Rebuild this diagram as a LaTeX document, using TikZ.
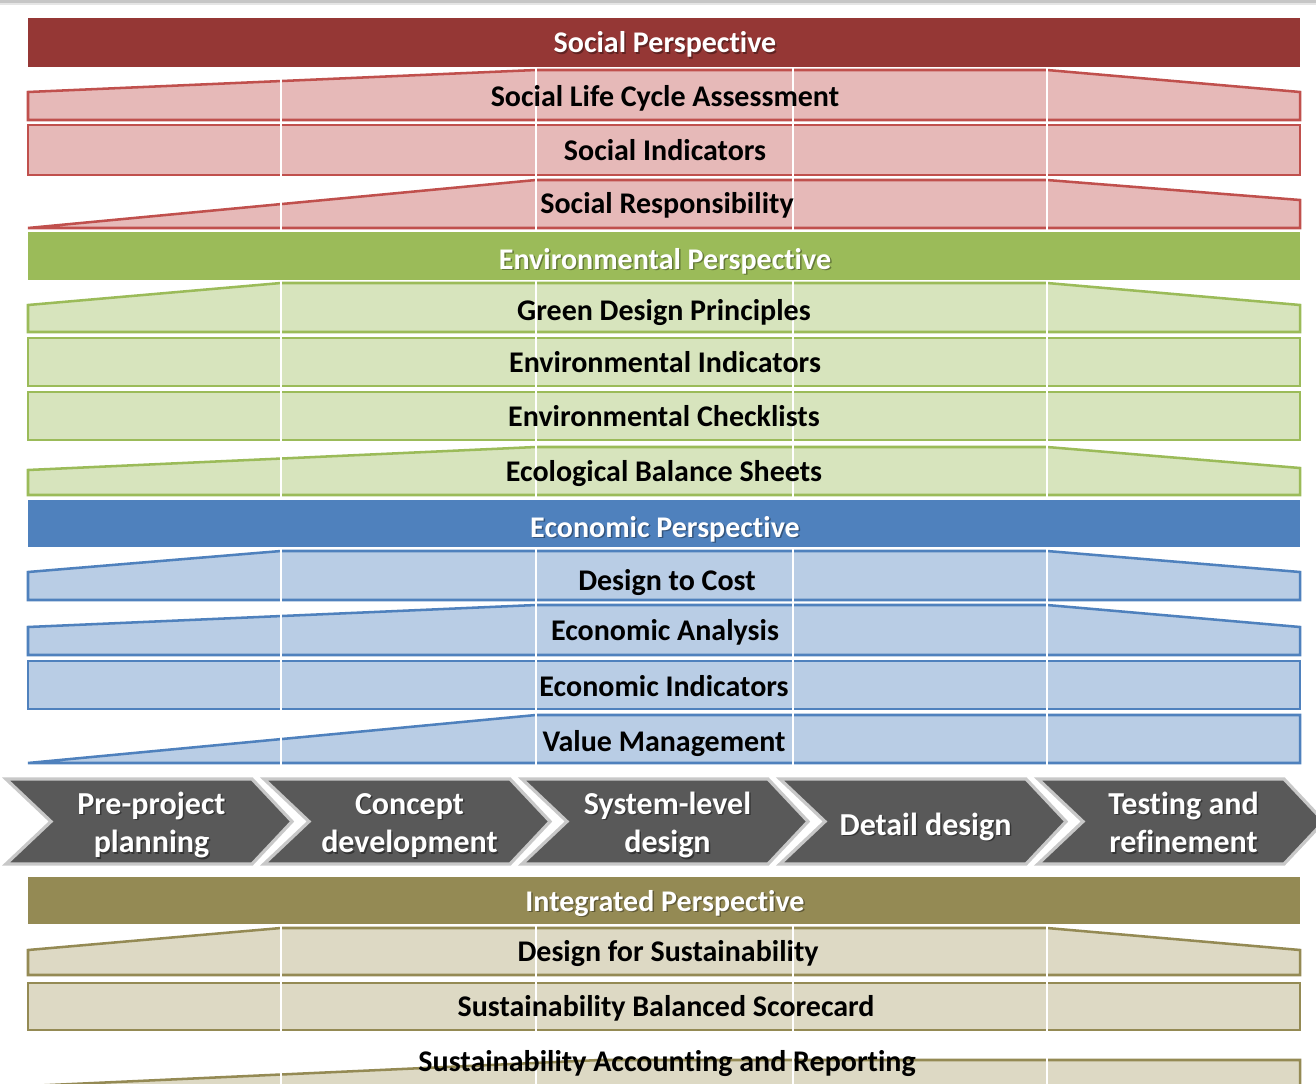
\documentclass[tikz,border=0pt]{standalone}
\usepackage{fontspec}
\setmainfont{Carlito}[RawFeature={-liga;-clig;-calt}]
\definecolor{sochead}{HTML}{953735}
\definecolor{socfill}{HTML}{E6B9B8}
\definecolor{socline}{HTML}{C0504D}
\definecolor{envhead}{HTML}{9BBB59}
\definecolor{envfill}{HTML}{D7E4BD}
\definecolor{envline}{HTML}{9BBB59}
\definecolor{ecohead}{HTML}{4F81BD}
\definecolor{ecofill}{HTML}{B9CDE5}
\definecolor{ecoline}{HTML}{4F81BD}
\definecolor{inthead}{HTML}{948A54}
\definecolor{intfill}{HTML}{DDD9C4}
\definecolor{intline}{HTML}{948A54}
\definecolor{chevfill}{HTML}{595959}
\definecolor{chevedge}{HTML}{C8C8C8}
\begin{document}
\begin{tikzpicture}[x=0.75pt,y=-0.75pt,
  band/.style={line width=1.9pt, line join=miter},
  socrow/.style={band, fill=socfill, draw=socline},
  envrow/.style={band, fill=envfill, draw=envline},
  ecorow/.style={band, fill=ecofill, draw=ecoline},
  introw/.style={band, fill=intfill, draw=intline},
  gridline/.style={white, line width=1.5pt},
  chevron/.style={fill=chevfill, draw=chevedge, line width=2.4pt, line join=miter},
  rowtxt/.style={font=\bfseries\fontsize{22.5}{27}\selectfont, text=black, inner sep=0pt, anchor=base},
  headtxt/.style={font=\bfseries\fontsize{22.5}{27}\selectfont, text=white, inner sep=0pt, anchor=base},
  headshadow/.style={font=\bfseries\fontsize{22.5}{27}\selectfont, text=black, text opacity=0.35, inner sep=0pt, anchor=base},
  chevtxt/.style={font=\bfseries\fontsize{24}{29}\selectfont, text=white, inner sep=0pt, align=center, anchor=center},
  chevshadow/.style={font=\bfseries\fontsize{24}{29}\selectfont, text=black, text opacity=0.4, inner sep=0pt, align=center, anchor=center}
]
\path[use as bounding box] (0,0) rectangle (1316,1084);
\clip (0,0) rectangle (1316,1084);
\fill[white] (0,0) rectangle (1316,1084);
% thin grey rule along the top edge
\fill[gray!45] (0,0) rectangle (1316,3);
\fill[gray!20] (0,3) rectangle (1316,5);

% ---------- social rows ----------
\draw[socrow] (28,120) -- (28,92) -- (536,70) -- (1047,70) -- (1300,92) -- (1300,120) -- cycle;
\draw[socrow] (28,125) rectangle (1300,175);
\draw[socrow] (28,228) -- (536,180) -- (1047,180) -- (1300,200) -- (1300,228) -- cycle;

% ---------- environmental rows ----------
\draw[envrow] (28,332) -- (28,305) -- (281,283) -- (1047,283) -- (1300,305) -- (1300,332) -- cycle;
\draw[envrow] (28,338) rectangle (1300,386);
\draw[envrow] (28,392) rectangle (1300,440);
\draw[envrow] (28,495) -- (28,470) -- (536,447) -- (1047,447) -- (1300,468) -- (1300,495) -- cycle;

% ---------- economic rows ----------
\draw[ecorow] (28,600) -- (28,572) -- (281,551) -- (1047,551) -- (1300,572) -- (1300,600) -- cycle;
\draw[ecorow] (28,655) -- (28,627) -- (536,605) -- (1047,605) -- (1300,627) -- (1300,655) -- cycle;
\draw[ecorow] (28,661) rectangle (1300,709);
\draw[ecorow] (28,763) -- (536,715) -- (1300,715) -- (1300,763) -- cycle;

% ---------- integrated rows ----------
\draw[introw] (28,975) -- (28,950) -- (281,928) -- (1047,928) -- (1300,950) -- (1300,975) -- cycle;
\draw[introw] (28,983) rectangle (1300,1030);
\draw[introw] (28,1086) -- (600,1060) -- (1300,1060) -- (1300,1100) -- (28,1100) -- cycle;

% ---------- phase grid lines ----------
\foreach \gx in {281,536,793,1047}
  \draw[gridline] (\gx,65) -- (\gx,1084);

% ---------- perspective headers ----------
\fill[sochead] (28,18) rectangle (1300,67);
\fill[envhead] (28,232) rectangle (1300,280);
\fill[ecohead] (28,500) rectangle (1300,547);
\fill[inthead] (28,877) rectangle (1300,924);

\foreach \hy/\htitle in {53/Social Perspective, 269/Environmental Perspective, 537/Economic Perspective, 911/Integrated Perspective}
  \node[headshadow] at (666.5,\hy+1.5) {\htitle};
\node[headtxt] (hsoc) at (665,53) {Social Perspective};
\node[headtxt] (henv) at (665,269) {Environmental Perspective};
\node[headtxt] (heco) at (665,537) {Economic Perspective};
\node[headtxt] (hint) at (665,911) {Integrated Perspective};

% ---------- row labels ----------
\node[rowtxt] (slca) at (665,107) {Social Life Cycle Assessment};
\node[rowtxt] (sind) at (665,161) {Social Indicators};
\node[rowtxt] (sres) at (667,214) {Social Responsibility};
\node[rowtxt] (gdp)  at (664,320) {Green Design Principles};
\node[rowtxt] (eind) at (665,372) {Environmental Indicators};
\node[rowtxt] (echk) at (664,426) {Environmental Checklists};
\node[rowtxt] (ebs)  at (664,481) {Ecological Balance Sheets};
\node[rowtxt] (dtc)  at (667,590) {Design to Cost};
\node[rowtxt] (ean)  at (665,640) {Economic Analysis};
\node[rowtxt] (ecind) at (664,696) {Economic Indicators};
\node[rowtxt] (vm)   at (664,751) {Value Management};
\node[rowtxt] (dfs)  at (668,961) {Design for Sustainability};
\node[rowtxt] (sbs)  at (666,1016) {Sustainability Balanced Scorecard};
\node[rowtxt] (sar)  at (667,1071) {Sustainability Accounting and Reporting};

% ---------- development phases ----------
\foreach \i in {0,...,4} {
  \pgfmathsetmacro{\lx}{6+258*\i}
  \draw[chevron] (\lx,779) -- (\lx+246,779) -- (\lx+286,821.5) -- (\lx+246,864) -- (\lx,864) -- (\lx+45,821.5) -- cycle;
}
\foreach \cx/\cy/\chtitle in {151.5/825.6/{Pre-project\strut\\planning\strut}, 409.5/825.6/{Concept\strut\\development\strut}, 667.5/825.6/{System-level\strut\\design\strut}, 925.5/827.3/{Detail design\strut}, 1183.5/825.6/{Testing and\strut\\refinement\strut}}
  \node[chevshadow] at (\cx+1.5,\cy+1.5) {\chtitle};
\node[chevtxt] (p1) at (151.5,825.6) {Pre-project\strut\\planning\strut};
\node[chevtxt] (p2) at (409.5,825.6) {Concept\strut\\development\strut};
\node[chevtxt] (p3) at (667.5,825.6) {System-level\strut\\design\strut};
\node[chevtxt] (p4) at (925.5,827.3) {Detail design\strut};
\node[chevtxt] (p5) at (1183.5,825.6) {Testing and\strut\\refinement\strut};
\end{tikzpicture}
\end{document}
